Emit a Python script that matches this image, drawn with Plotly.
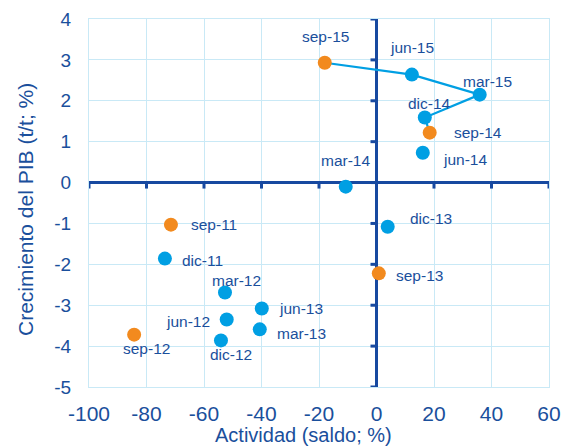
import plotly.graph_objects as go

labels = ["sep-11", "dic-11", "mar-12", "jun-12", "sep-12", "dic-12", "mar-13", "jun-13",
          "sep-13", "dic-13", "mar-14", "jun-14", "sep-14", "dic-14", "mar-15", "jun-15", "sep-15"]
actividad = [-71.5, -73.6, -52.7, -52.1, -84.3, -54.1, -40.6, -39.9,
             0.8, 3.9, -10.7, 16.1, 18.5, 16.8, 35.9, 12.3, -18.0]
pib = [-1.03, -1.86, -2.69, -3.35, -3.72, -3.86, -3.59, -3.08,
       -2.22, -1.08, -0.10, 0.73, 1.22, 1.59, 2.15, 2.64, 2.93]
# label offsets in pixels (dx right, dy down)
label_dx = [43, 38, 12, -39, 12, 10, 42, 39, 41, 43, 0, 42, 48, 5, 8, 0, 1]
label_dy = [0, 2, -12, 2, 14, 14, 4, 0, 2, -8, -26, 7, 0, -14, -13, -27, -26]

x_ticks = [-100, -80, -60, -40, -20, 0, 20, 40, 60]
y_ticks = [4, 3, 2, 1, 0, -1, -2, -3, -4, -5]
x_ticktext = [str(v) for v in x_ticks]
y_ticktext = [str(v) for v in y_ticks]

BLUE = "#009FE3"
ORANGE = "#F28A1E"
DARK = "#1A4F9C"
AXIS = "#1749A0"
GRID = "#C9E9F6"
FONT = "Liberation Sans, Arial"

colors = [ORANGE if l.startswith("sep") else BLUE for l in labels]
line_idx = [i for i, l in enumerate(labels) if l in ("sep-14", "dic-14", "mar-15", "jun-15", "sep-15")]

fig = go.Figure()
fig.add_trace(go.Scatter(
    x=[actividad[i] for i in line_idx], y=[pib[i] for i in line_idx],
    mode="lines", line=dict(color=BLUE, width=2.2), hoverinfo="skip", showlegend=False))
fig.add_trace(go.Scatter(
    x=actividad, y=pib, mode="markers",
    marker=dict(color=colors, size=14, line=dict(width=0)),
    text=labels, showlegend=False))

for l, xv, yv, dx, dy in zip(labels, actividad, pib, label_dx, label_dy):
    fig.add_annotation(x=xv, y=yv, text=l, showarrow=False, xshift=dx, yshift=-dy,
                       font=dict(family=FONT, size=15.5, color=DARK))

shapes = []
for t in x_ticks:
    shapes.append(dict(type="line", xref="x", yref="y", x0=t, x1=t,
                       ysizemode="pixel", yanchor=0, y0=1, y1=-6,
                       line=dict(color=AXIS, width=3)))
for t in y_ticks:
    shapes.append(dict(type="line", xref="x", yref="y", y0=t, y1=t,
                       xsizemode="pixel", xanchor=0, x0=-6, x1=1,
                       line=dict(color=AXIS, width=3)))
fig.update_layout(shapes=shapes)

fig.update_xaxes(range=[-100, 60], tickvals=x_ticks, ticktext=x_ticktext,
                 showgrid=True, gridcolor=GRID, gridwidth=1,
                 zeroline=True, zerolinecolor=AXIS, zerolinewidth=3,
                 showline=True, linecolor=GRID, mirror=True,
                 ticks="outside", ticklen=8, tickcolor="rgba(0,0,0,0)",
                 tickfont=dict(family=FONT, size=21, color=DARK), automargin=False)
fig.update_yaxes(range=[-5, 4], tickvals=y_ticks, ticktext=y_ticktext,
                 showgrid=True, gridcolor=GRID, gridwidth=1,
                 zeroline=True, zerolinecolor=AXIS, zerolinewidth=3,
                 showline=True, linecolor=GRID, mirror=True,
                 ticks="outside", ticklen=13, tickcolor="rgba(0,0,0,0)",
                 tickfont=dict(family=FONT, size=19, color=DARK), automargin=False)

fig.add_annotation(text="Actividad (saldo; %)", xref="paper", yref="paper", x=0.5, y=0,
                   xshift=-16, yshift=-48, yanchor="middle", showarrow=False,
                   font=dict(family=FONT, size=20, color=DARK))
fig.add_annotation(text="Crecimiento del PIB (t/t; %)", xref="paper", yref="paper", x=0, y=0.5,
                   xshift=-64, yshift=-7, xanchor="center", yanchor="middle", textangle=-90,
                   showarrow=False, font=dict(family=FONT, size=21, color=DARK))

# page body has an 8px margin, so the figure is sized to fit the 570x448 window
fig.update_layout(width=562, height=440, margin=dict(l=81, r=21, t=11, b=61),
                  plot_bgcolor="white", paper_bgcolor="white",
                  font=dict(family=FONT))
fig.write_html("out.html")
